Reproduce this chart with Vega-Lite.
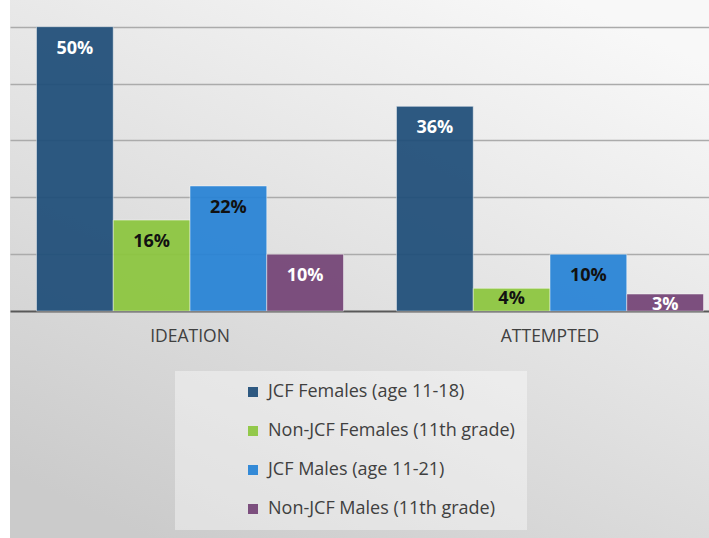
{
  "$schema": "https://vega.github.io/schema/vega-lite/v6.json",
  "width": 699,
  "height": 538,
  "autosize": "none",
  "padding": {"left": 10, "top": 0, "right": 0, "bottom": 0},
  "background": "white",
  "config": {
    "font": "Open Sans",
    "view": {
      "stroke": null,
      "fill": {
        "gradient": "linear",
        "x1": 0.8, "y1": 0, "x2": 0.2, "y2": 1,
        "stops": [
          {"offset": 0, "color": "#f8f8f8"},
          {"offset": 0.5, "color": "#e2e2e2"},
          {"offset": 1, "color": "#cbcbcb"}
        ]
      }
    }
  },
  "data": {
    "values": [
      {"measure": "IDEATION", "series": "JCF Females (age 11-18)", "value": 0.50},
      {"measure": "IDEATION", "series": "Non-JCF Females (11th grade)", "value": 0.16},
      {"measure": "IDEATION", "series": "JCF Males (age 11-21)", "value": 0.22},
      {"measure": "IDEATION", "series": "Non-JCF Males (11th grade)", "value": 0.10},
      {"measure": "ATTEMPTED", "series": "JCF Females (age 11-18)", "value": 0.36},
      {"measure": "ATTEMPTED", "series": "Non-JCF Females (11th grade)", "value": 0.04},
      {"measure": "ATTEMPTED", "series": "JCF Males (age 11-21)", "value": 0.10},
      {"measure": "ATTEMPTED", "series": "Non-JCF Males (11th grade)", "value": 0.03}
    ]
  },
  "encoding": {
    "x": {
      "field": "measure",
      "type": "nominal",
      "sort": ["IDEATION", "ATTEMPTED"],
      "scale": {"range": [0, 720], "paddingInner": 0, "paddingOuter": 0},
      "axis": {
        "orient": "bottom",
        "offset": -227,
        "title": null,
        "ticks": false,
        "labelAngle": 0,
        "labelFontSize": 17.5,
        "labelColor": "#404040",
        "labelPadding": 16,
        "domainColor": "#595959",
        "domainWidth": 2
      }
    },
    "xOffset": {
      "field": "series",
      "sort": ["JCF Females (age 11-18)", "Non-JCF Females (11th grade)", "JCF Males (age 11-21)", "Non-JCF Males (11th grade)"],
      "scale": {"paddingInner": 0, "paddingOuter": 0.345}
    },
    "y": {
      "field": "value",
      "type": "quantitative",
      "scale": {"domain": [-0.399, 0.547], "nice": false, "zero": false},
      "axis": {
        "values": [0.1, 0.2, 0.3, 0.4, 0.5],
        "labels": false,
        "ticks": false,
        "domain": false,
        "title": null,
        "gridColor": "#ababab",
        "gridWidth": 1.5
      }
    }
  },
  "layer": [
    {
      "mark": {"type": "bar", "opacity": 0.93, "stroke": "#ffffff", "strokeWidth": 0.8, "strokeOpacity": 0.6},
      "encoding": {
        "color": {
          "field": "series",
          "type": "nominal",
          "sort": ["JCF Females (age 11-18)", "Non-JCF Females (11th grade)", "JCF Males (age 11-21)", "Non-JCF Males (11th grade)"],
          "scale": {"range": ["#1f4e79", "#8cc63e", "#2783d6", "#744476"]},
          "legend": {
            "orient": "none",
            "legendX": 165,
            "legendY": 371,
            "title": null,
            "symbolType": "square",
            "symbolSize": 100,
            "symbolStrokeWidth": 0,
            "labelFontSize": 18,
            "labelColor": "#404040",
            "labelLimit": 400,
            "labelOffset": 6,
            "rowPadding": 21,
            "padding": 12,
            "symbolOffset": 57,
            "fillColor": "rgba(255,255,255,0.4)"
          }
        }
      }
    },
    {
      "transform": [{"filter": "datum.value >= 0.08"}],
      "mark": {"type": "text", "fontWeight": "bold", "fontSize": 18, "baseline": "middle", "dy": 22},
      "encoding": {
        "text": {"field": "value", "type": "quantitative", "format": ".0%"},
        "color": {
          "condition": {"test": "datum.series === 'JCF Females (age 11-18)' || datum.series === 'Non-JCF Males (11th grade)'", "value": "#ffffff"},
          "value": "#111111"
        }
      }
    },
    {
      "transform": [{"filter": "datum.value < 0.08"}],
      "mark": {"type": "text", "fontWeight": "bold", "fontSize": 18, "baseline": "middle", "dy": 11},
      "encoding": {
        "text": {"field": "value", "type": "quantitative", "format": ".0%"},
        "color": {
          "condition": {"test": "datum.series === 'JCF Females (age 11-18)' || datum.series === 'Non-JCF Males (11th grade)'", "value": "#ffffff"},
          "value": "#111111"
        }
      }
    }
  ]
}
